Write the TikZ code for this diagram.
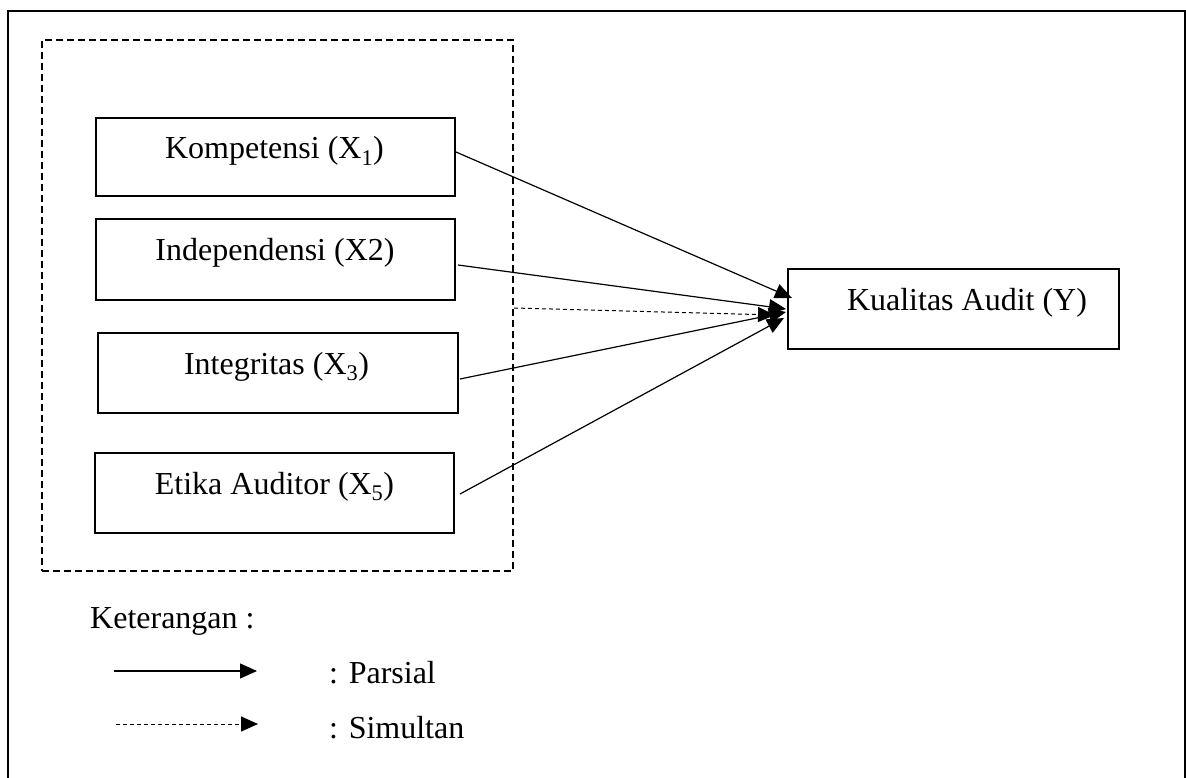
\documentclass[tikz,border=0pt]{standalone}
\usepackage{fontspec}
\setmainfont{Liberation Serif}
\usetikzlibrary{arrows.meta}
\begin{document}
\begin{tikzpicture}[x=1pt,y=-1pt,
  txt/.style={inner sep=0pt,font=\fontsize{32}{38}\selectfont},
  varbox/.style={draw,line width=2pt,inner sep=0pt},
  grpbox/.style={draw,line width=2pt,dash pattern=on 7pt off 4pt,inner sep=0pt},
  parrow/.style={line width=1.2pt,-{Triangle[length=17pt,width=15pt]}},
  sarrow/.style={line width=1pt,dash pattern=on 4pt off 3pt,-{Triangle[length=17pt,width=15pt]}}]
\useasboundingbox (0,0) rectangle (1186,778);
% outer frame
\draw[line width=2pt] (8,781) -- (8,11) -- (1185,11) -- (1185,781);
% group box
\node[grpbox,minimum width=471pt,minimum height=531pt] (grp) at (277.5,305.5) {};
% variable boxes
\node[varbox,minimum width=359pt,minimum height=78pt] (x1) at (275.5,157) {};
\node[varbox,minimum width=359pt,minimum height=81pt] (x2) at (275.5,259.5) {};
\node[varbox,minimum width=360pt,minimum height=80pt] (x3) at (278,373) {};
\node[varbox,minimum width=359pt,minimum height=80pt] (x4) at (274.5,493) {};
\node[varbox,minimum width=331pt,minimum height=80pt] (y) at (953.5,309) {};
% labels
\node[txt,anchor=base] (l1) at (274.5,159) {Kompetensi (X\textsubscript{1})};
\node[txt,anchor=base] (l2) at (275,260) {Independensi (X2)};
\node[txt,anchor=base] (l3) at (276.5,374) {Integritas (X\textsubscript{3})};
\node[txt,anchor=base] (l4) at (274.5,494) {Etika Auditor (X\textsubscript{5})};
\node[txt,anchor=base] (ly) at (967,310) {Kualitas Audit (Y)};
% connectors
\draw[parrow] ([yshift=5pt]x1.east) -- ([xshift=5pt,yshift=11pt]y.west);
\draw[parrow] ([xshift=2pt,yshift=-5.5pt]x2.east) -- ([xshift=-1pt]y.west);
\draw[parrow] ([xshift=1pt,yshift=-6pt]x3.east) -- ([xshift=-1pt,yshift=-3pt]y.west);
\draw[parrow] ([xshift=5pt,yshift=-1pt]x4.east) -- ([xshift=-3pt,yshift=-9pt]y.west);
\draw[sarrow] ([yshift=-2.5pt]grp.east) -- ([xshift=-12pt,yshift=-6pt]y.west);
% legend
\node[txt,anchor=base west] (ket) at (90,628) {Keterangan :};
\coordinate (ps) at (114,671);
\coordinate (pe) at (257,671);
\coordinate (ss) at (116,724);
\coordinate (se) at (258,724);
\draw[parrow] (ps) -- (pe);
\draw[sarrow] (ss) -- (se);
\node[txt,anchor=base west] (lp) at (329,683) {: Parsial};
\node[txt,anchor=base west] (ls) at (329,738) {: Simultan};
\end{tikzpicture}
\end{document}
